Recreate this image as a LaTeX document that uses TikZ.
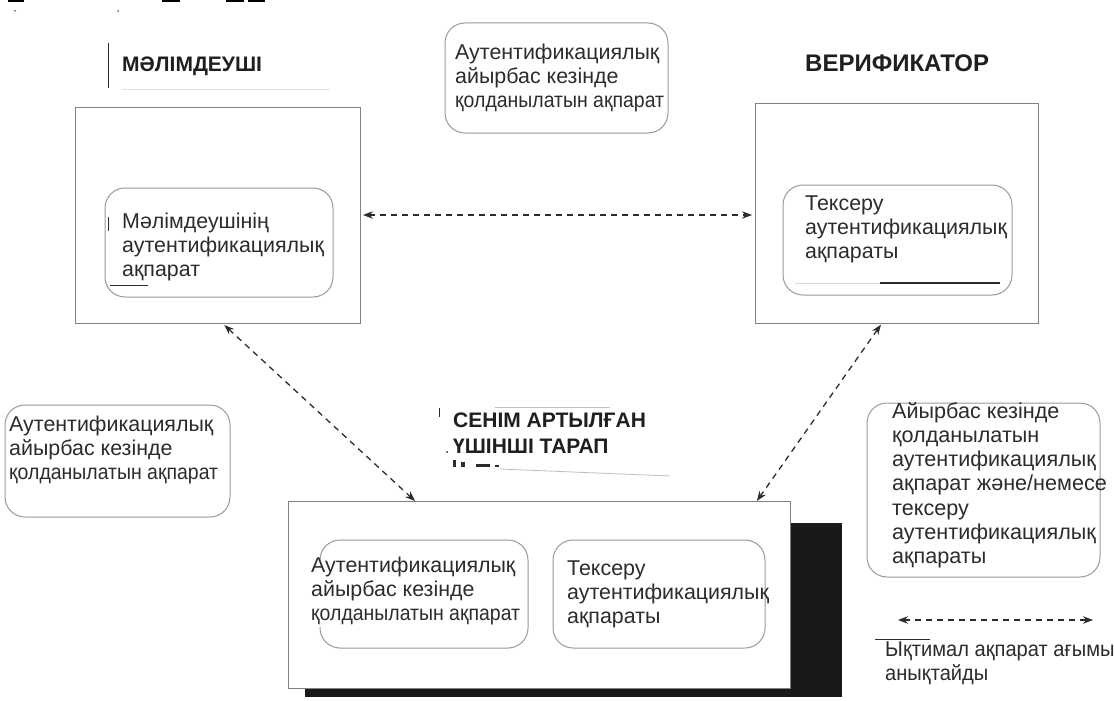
\documentclass[tikz,border=0pt]{standalone}
\usepackage{fontspec}
\setmainfont{Liberation Sans}
\newfontfamily\narrowface{Liberation Sans}[FakeStretch=0.91]
\newfontfamily\legendface{Liberation Sans}[FakeStretch=0.94]
\usetikzlibrary{arrows.meta,calc}
\definecolor{ink}{HTML}{2C2C2C}
\definecolor{frame}{HTML}{808080}
\definecolor{soft}{HTML}{9A9A9A}
\newcommand{\usedinfo}{{\narrowface қолданылатын ақпарат}}
\begin{document}
\begin{tikzpicture}[x=1pt,y=-1pt,
  plainbox/.style={draw=frame, line width=1pt, fill=white, inner sep=0pt, outer sep=0pt, anchor=north west},
  roundbox/.style={draw=soft, line width=1pt, rounded corners=20pt, inner sep=0pt, outer sep=0pt, anchor=north west},
  txt/.style={anchor=north west, inner sep=0pt, align=left, text=ink, font=\fontsize{21.4}{23.8}\selectfont},
  heading/.style={anchor=north west, inner sep=0pt, align=left, text=black!88, font=\bfseries\fontsize{21}{26}\selectfont},
  flow/.style={draw=ink, line width=1.3pt, dash pattern=on 6pt off 5pt, {Stealth[length=10pt,width=7.5pt]}-{Stealth[length=10pt,width=7.5pt]}},
  scrap/.style={draw=ink, line width=1pt}
]
\clip (0,0) rectangle (1114,701);
\fill[white] (0,0) rectangle (1114,701);

% --- remnants of the line above, cut at the top edge ------------------
\fill[black] (8,0) rectangle (24,2.5);
\fill[black] (162,0) rectangle (180,2.5);
\fill[black] (226,0) rectangle (244,2.5);
\fill[black] (248,0) rectangle (265,2.5);
\fill[black!60] (15,11) circle (1pt);
\fill[black!60] (118,11) circle (1pt);

% --- claimant -------------------------------------------------------
\node[heading, anchor=base west] (tClaim) at (122,72) {МӘЛІМДЕУШІ};
\draw[scrap] (108,43) -- (108,88);
\draw[black!12, line width=0.8pt] (122,89) -- (330,89);
\node[plainbox, minimum width=285pt, minimum height=216pt] (lbox) at (75,107) {};
\node[roundbox, minimum width=228pt, minimum height=109pt] (linner) at (105,188) {};
\node[txt] (lText) at (122,213) {Мәлімдеушінің\\аутентификациялық\\ақпарат};
\draw[scrap] (108,217) -- (108,231);
\draw[scrap] (110,285) -- (148,285);

% --- exchange information (top) ------------------------------------
\node[roundbox, minimum width=223pt, minimum height=110pt] (topinfo) at (445,23) {};
\node[txt] (topText) at (455,44) {Аутентификациялық\\айырбас кезінде\\\usedinfo};

% --- verifier --------------------------------------------------------
\node[heading, anchor=base west, font=\bfseries\fontsize{24}{26}\selectfont] (tVer) at (805,72) {ВЕРИФИКАТОР};
\node[plainbox, minimum width=283pt, minimum height=220pt] (rbox) at (755,103) {};
\node[roundbox, minimum width=229pt, minimum height=110pt] (rinner) at (783,185) {};
\node[txt] (rText) at (805,196) {Тексеру\\аутентификациялық\\ақпараты};
\draw[black!15, line width=0.8pt] (795,283) -- (880,283);
\draw[ink, line width=1.3pt] (880,283) -- (1000,283);

% --- exchange information (left) -----------------------------------
\node[roundbox, minimum width=225pt, minimum height=112pt] (leftinfo) at (5,405) {};
\node[txt] (leftText) at (9,416) {Аутентификациялық\\айырбас кезінде\\\usedinfo};

% --- trusted third party ---------------------------------------------
\node[heading] (tTrust) at (453,413) {СЕНІМ АРТЫЛҒАН\\ҮШІНШІ ТАРАП};
\draw[scrap] (439,408) -- (439,417);
\draw[black!25, line width=0.8pt] (495,407) -- (610,407);
\fill[ink] (447,452) circle (1pt);
\fill[ink] (453,460) rectangle (456,467);
\fill[ink] (461,462) rectangle (465,467);
\fill[ink] (476,464) rectangle (490,467);
\fill[ink] (495,465) rectangle (499,467);
\draw[black!25, line width=0.8pt] (500,469) -- (670,476);

\fill[black!90] (305,523) rectangle (842,697);
\node[plainbox, minimum width=502pt, minimum height=187pt] (bbox) at (288,501) {};
\draw[soft, line width=1pt, rounded corners=20pt]
  (320,561) -- (320,540) -- (528,540) -- (528,648) -- (320,648) -- (320,627);
\node[txt] (bText1) at (311,557) {Аутентификациялық\\айырбас кезінде\\\usedinfo};
\node[roundbox, minimum width=212pt, minimum height=108pt] (binner2) at (553,540) {};
\node[txt] (bText2) at (567,561) {Тексеру\\аутентификациялық\\ақпараты};

% --- exchange information (right) ----------------------------------
\node[roundbox, minimum width=233pt, minimum height=174pt] (rightinfo) at (867,403) {};
\node[txt, font=\fontsize{21.6}{24.2}\selectfont] (rightText) at (892,402) {Айырбас кезінде\\қолданылатын\\аутентификациялық\\ақпарат және/немесе\\тексеру\\аутентификациялық\\ақпараты};

% --- information flows ---------------------------------------------
\draw[flow, shorten <=3pt, shorten >=3pt] (lbox.east) -- (lbox.east -| rbox.west);
\draw[flow, shorten <=3pt]
  ($(lbox.south west)!0.516!(lbox.south east)$) -- ($(bbox.north west)!0.253!(bbox.north east)$);
\draw[flow, shorten <=2pt]
  ($(rbox.south west)!0.449!(rbox.south east)$) -- ($(bbox.north west)!0.934!(bbox.north east)$);

% --- legend ------------------------------------------------------------
\coordinate (lgA) at (898,620);
\coordinate (lgB) at (1093,620);
\draw[flow] (lgA) -- (lgB);
\draw[ink, line width=1pt] (875,639) -- (930,639);
\node[txt, font=\legendface\fontsize{21.4}{23.8}\selectfont] (legendText) at (885,642) {Ықтимал ақпарат ағымын\\анықтайды};
\end{tikzpicture}
\end{document}
